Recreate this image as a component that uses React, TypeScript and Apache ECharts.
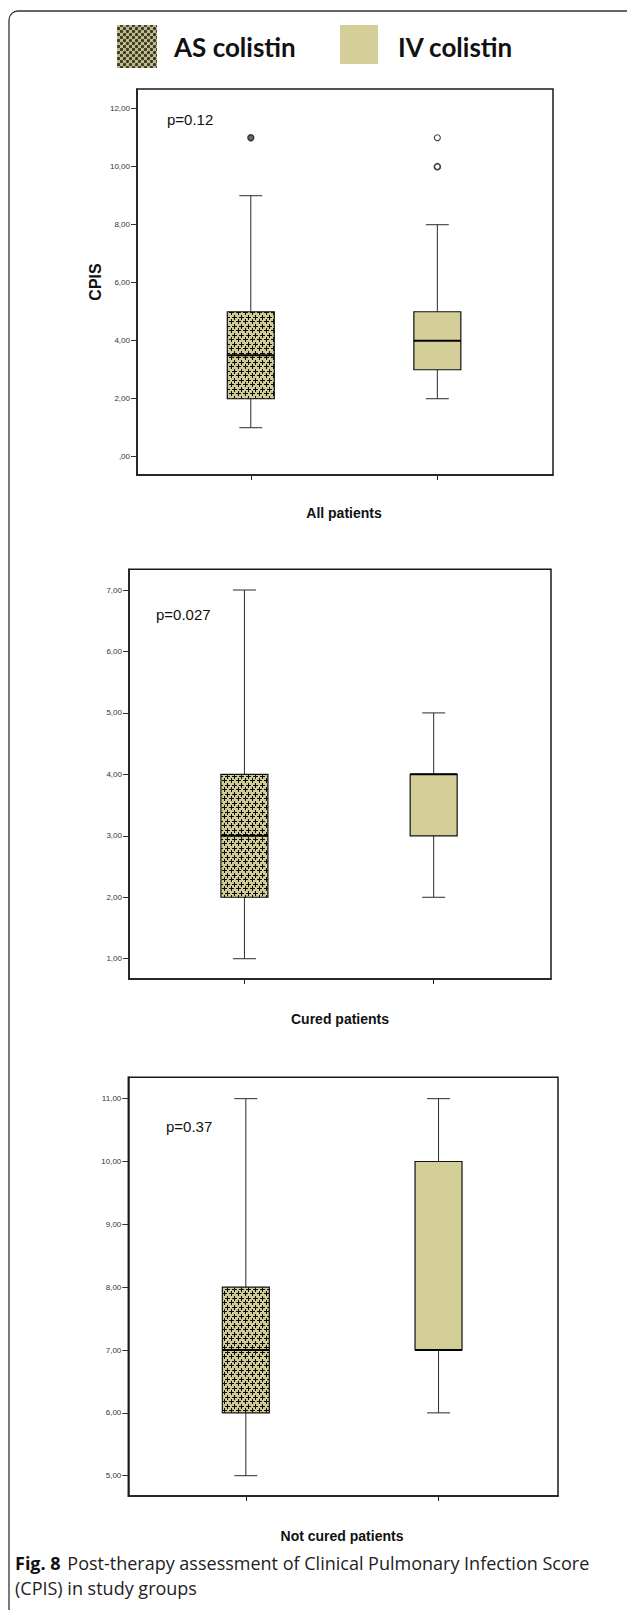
import React, { useEffect, useRef } from 'react';
import * as echarts from 'echarts';

// ---- data ----
const groups = ['AS colistin', 'IV colistin'];
const panelTitles = ['All patients', 'Cured patients', 'Not cured patients'];
const pValues = ['p=0.12', 'p=0.027', 'p=0.37'];
// box values: [min, Q1, median, Q3, max]
const allAS = [1, 2, 3.5, 5, 9];
const allIV = [2, 3, 4, 5, 8];
const curedAS = [1, 2, 3, 4, 7];
const curedIV = [2, 3, 4, 4, 5];
const notCuredAS = [5, 6, 7, 8, 11];
const notCuredIV = [6, 7, 7, 10, 11];
const allOutliersAS = [11];
const allOutliersIV = [10, 11];
const ticksAll = [0, 2, 4, 6, 8, 10, 12];
const ticksCured = [1, 2, 3, 4, 5, 6, 7];
const ticksNotCured = [5, 6, 7, 8, 9, 10, 11];
const yMins = [-0.63, 0.67, 4.677];
const yMaxs = [12.68, 7.337, 11.34];

const TAN = '#d4cf99';
const FONT = "'Liberation Sans', Arial, sans-serif";

function makeCrossPattern(): string {
  const c = document.createElement('canvas');
  c.width = 7;
  c.height = 9;
  const ctx = c.getContext('2d')!;
  ctx.fillStyle = '#d0cb94';
  ctx.fillRect(0, 0, 7, 9);
  ctx.fillStyle = '#0a0a0a';
  const plus = (cx: number, cy: number) => {
    ctx.fillRect(cx - 2, cy, 5, 1);
    ctx.fillRect(cx, cy - 2, 1, 5);
  };
  plus(3, 2);
  plus(0, 6);
  plus(7, 6);
  return c.toDataURL();
}

function makeDotPattern(): string {
  const c = document.createElement('canvas');
  c.width = 6;
  c.height = 6;
  const ctx = c.getContext('2d')!;
  ctx.fillStyle = '#cfca93';
  ctx.fillRect(0, 0, 6, 6);
  ctx.fillStyle = '#3d3c2c';
  const dot = (x: number, y: number) => {
    ctx.beginPath();
    ctx.arc(x, y, 1.7, 0, Math.PI * 2);
    ctx.fill();
  };
  dot(1.5, 1.5);
  dot(4.5, 4.5);
  dot(-1.5, 4.5);
  dot(4.5, -1.5);
  dot(7.5, 1.5);
  dot(1.5, 7.5);
  return c.toDataURL();
}

const fmt = (v: number) => (v === 0 ? ',00' : v.toFixed(2).replace('.', ','));

export default function App() {
  const ref = useRef<HTMLDivElement>(null);

  useEffect(() => {
    if (!ref.current) return;
    const chart = echarts.init(ref.current, null, { renderer: 'svg' });
    const crossFill = { image: makeCrossPattern(), repeat: 'repeat', imageWidth: 7, imageHeight: 9 };
    const dotFill = { image: makeDotPattern(), repeat: 'repeat', imageWidth: 6, imageHeight: 6 };

    const boxSets = [
      [allAS, allIV],
      [curedAS, curedIV],
      [notCuredAS, notCuredIV],
    ];
    const tickSets = [ticksAll, ticksCured, ticksNotCured];
    const gridBoxes = [
      { left: 137, top: 89, width: 416, height: 386 },
      { left: 129, top: 569.3, width: 422, height: 409.7 },
      { left: 128.3, top: 1077.3, width: 429.7, height: 418.7 },
    ];

    const boxSeries = boxSets.map((boxes, gi) => ({
      type: 'custom',
      xAxisIndex: gi,
      yAxisIndex: gi,
      clip: false,
      data: boxes.map((b, i) => [i, ...b]),
      encode: { x: 0, y: [1, 2, 3, 4, 5] },
      renderItem: (params: any, api: any) => {
        const i = api.value(0);
        const p = (k: number) => api.coord([i, api.value(k)]);
        const cx = p(1)[0];
        const yMin = p(1)[1];
        const yQ1 = p(2)[1];
        const yMed = p(3)[1];
        const yQ3 = p(4)[1];
        const yMax = p(5)[1];
        const half = 23.5;
        const cap = 11.5;
        const ws = { stroke: '#2a2a2a', lineWidth: 1 };
        return {
          type: 'group',
          children: [
            { type: 'line', shape: { x1: cx, y1: yMax, x2: cx, y2: yQ3 }, style: ws },
            { type: 'line', shape: { x1: cx, y1: yQ1, x2: cx, y2: yMin }, style: ws },
            { type: 'line', shape: { x1: cx - cap, y1: yMax, x2: cx + cap, y2: yMax }, style: ws },
            { type: 'line', shape: { x1: cx - cap, y1: yMin, x2: cx + cap, y2: yMin }, style: ws },
            {
              type: 'rect',
              shape: { x: cx - half, y: yQ3, width: half * 2, height: yQ1 - yQ3 },
              style: { fill: i === 0 ? crossFill : TAN, stroke: '#111', lineWidth: 1.2 },
            },
            {
              type: 'line',
              shape: { x1: cx - half, y1: yMed, x2: cx + half, y2: yMed },
              style: { stroke: '#000', lineWidth: 2 },
            },
          ],
        };
      },
    }));

    const outlierSeries = {
      type: 'scatter',
      xAxisIndex: 0,
      yAxisIndex: 0,
      symbol: 'circle',
      symbolSize: 6,
      itemStyle: { color: '#fff', borderColor: '#111', borderWidth: 1.3 },
      data: [
        ...allOutliersAS.map((v) => ({ value: [0, v], itemStyle: { color: '#444' } })),
        ...allOutliersIV.map((v, k) => ({ value: [1, v], itemStyle: { borderWidth: k === 0 ? 1.7 : 1.1 } })),
      ],
    };

    const textBase = { fontFamily: FONT, fill: '#111' };
    const capFont = "'Open Sans', sans-serif";

    const option: any = {
      animation: false,
      backgroundColor: '#fff',
      grid: gridBoxes.map((g) => ({
        ...g,
        show: true,
        borderColor: '#1a1a1a',
        borderWidth: 1.5,
        backgroundColor: 'transparent',
      })),
      xAxis: gridBoxes.map((_, gi) => ({
        type: 'value',
        gridIndex: gi,
        min: -0.61,
        max: 1.62,
        axisLine: { show: true, onZero: false, lineStyle: { color: '#1a1a1a', width: 1.5 } },
        axisTick: { show: true, length: 5, customValues: [0, 1], lineStyle: { color: '#222' } },
        axisLabel: { show: false },
        splitLine: { show: false },
      })),
      yAxis: gridBoxes.map((_, gi) => ({
        type: 'value',
        gridIndex: gi,
        min: yMins[gi],
        max: yMaxs[gi],
        axisLine: { show: true, onZero: false, lineStyle: { color: '#1a1a1a', width: 1.5 } },
        axisTick: { show: true, length: 6, customValues: tickSets[gi], lineStyle: { color: '#333' } },
        axisLabel: {
          customValues: tickSets[gi],
          formatter: fmt,
          fontSize: 8,
          color: '#333',
          margin: 7,
          fontFamily: FONT,
        },
        splitLine: { show: false },
      })),
      series: [...boxSeries, outlierSeries],
      graphic: [
        {
          type: 'rect',
          shape: { x: 9, y: 11, width: 640, height: 1640, r: 9 },
          style: { fill: 'none', stroke: '#333', lineWidth: 1.3 },
          silent: true,
        },
        // legend
        { type: 'rect', shape: { x: 117, y: 25, width: 40, height: 43 }, style: { fill: dotFill } },
        {
          type: 'text',
          x: 174,
          y: 47,
          style: { text: groups[0], font: "bold 26px Lato, 'Open Sans', sans-serif", fill: '#111', verticalAlign: 'middle' },
        },
        { type: 'rect', shape: { x: 340, y: 25, width: 38, height: 39 }, style: { fill: TAN } },
        {
          type: 'text',
          x: 398,
          y: 47,
          style: { text: groups[1], font: "bold 26px Lato, 'Open Sans', sans-serif", fill: '#111', verticalAlign: 'middle' },
        },
        // y axis name
        {
          type: 'text',
          x: 95,
          y: 282,
          rotation: Math.PI / 2,
          style: { ...textBase, text: 'CPIS', fontSize: 16, fontWeight: 'bold', align: 'center', verticalAlign: 'middle' },
        },
        // p values
        { type: 'text', x: 167, y: 119, style: { ...textBase, text: pValues[0], fontSize: 15, verticalAlign: 'middle' } },
        { type: 'text', x: 156, y: 614, style: { ...textBase, text: pValues[1], fontSize: 15, verticalAlign: 'middle' } },
        { type: 'text', x: 166, y: 1126, style: { ...textBase, text: pValues[2], fontSize: 15, verticalAlign: 'middle' } },
        // panel titles
        { type: 'text', x: 344, y: 513, style: { ...textBase, text: panelTitles[0], fontSize: 14, fontWeight: 'bold', align: 'center', verticalAlign: 'middle' } },
        { type: 'text', x: 340, y: 1019, style: { ...textBase, text: panelTitles[1], fontSize: 14, fontWeight: 'bold', align: 'center', verticalAlign: 'middle' } },
        { type: 'text', x: 342, y: 1536, style: { ...textBase, text: panelTitles[2], fontSize: 14, fontWeight: 'bold', align: 'center', verticalAlign: 'middle' } },
        // caption
        {
          type: 'text',
          x: 15,
          y: 1563,
          style: {
            text: '{b|Fig. 8}  {n|Post-therapy assessment of Clinical Pulmonary Infection Score}',
            verticalAlign: 'middle',
            rich: {
              b: { fontFamily: capFont, fontSize: 18, fontWeight: 'bold', fill: '#111' },
              n: { fontFamily: capFont, fontSize: 18, fill: '#222' },
            },
          },
        },
        {
          type: 'text',
          x: 15,
          y: 1588,
          style: { text: '(CPIS) in study groups', fontFamily: capFont, fontSize: 18, fill: '#222', verticalAlign: 'middle' },
        },
      ],
    };
    chart.setOption(option);
    return () => chart.dispose();
  }, []);

  return <div ref={ref} style={{ position: 'absolute', left: 0, top: 0, width: 627, height: 1610 }} />;
}
